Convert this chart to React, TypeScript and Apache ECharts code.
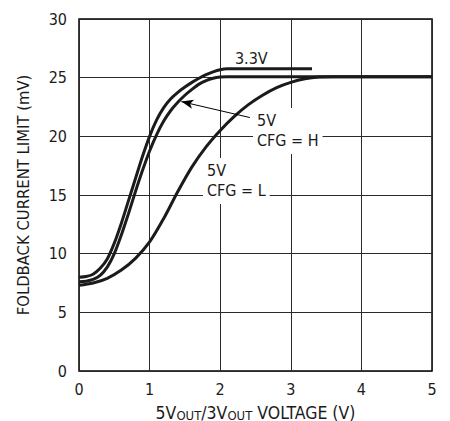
import React, { useEffect, useRef } from "react";
import * as echarts from "echarts";

// ---- data ----
const X_MIN = 0, X_MAX = 5, X_STEP = 1;
const Y_MIN = 0, Y_MAX = 30, Y_STEP = 5;

const v33X = [0, 0.1, 0.2, 0.3, 0.4, 0.5, 0.6, 0.7, 0.8, 0.9, 1.0, 1.1, 1.2, 1.3, 1.4, 1.5, 1.6, 1.7, 1.8, 1.9, 2.0, 2.1, 2.5, 3.3];
const v33Y = [8.0, 8.05, 8.25, 8.75, 9.55, 10.9, 12.6, 14.5, 16.4, 18.3, 20.0, 21.4, 22.45, 23.2, 23.75, 24.2, 24.6, 24.95, 25.25, 25.5, 25.68, 25.75, 25.75, 25.75];

const v5HX = [0, 0.1, 0.2, 0.3, 0.4, 0.5, 0.6, 0.7, 0.8, 0.9, 1.0, 1.1, 1.2, 1.3, 1.4, 1.5, 1.6, 1.7, 1.8, 1.9, 2.0, 2.1, 2.5, 5.0];
const v5HY = [7.6, 7.65, 7.8, 8.15, 8.85, 10.0, 11.6, 13.4, 15.3, 17.1, 18.75, 20.15, 21.3, 22.2, 22.9, 23.5, 24.0, 24.45, 24.75, 24.95, 25.05, 25.08, 25.08, 25.08];

const v5LX = [0, 0.2, 0.4, 0.6, 0.8, 1.0, 1.2, 1.4, 1.6, 1.8, 2.0, 2.2, 2.4, 2.6, 2.8, 3.0, 3.2, 3.4, 3.6, 4.0, 5.0];
const v5LY = [7.3, 7.5, 7.9, 8.6, 9.6, 11.0, 13.0, 15.3, 17.4, 19.1, 20.5, 21.7, 22.7, 23.5, 24.15, 24.6, 24.9, 25.05, 25.08, 25.08, 25.08];

// annotation anchors in data coordinates
const LABEL_33 = { text: "3.3V", at: [2.44, 26.6] };
const LABEL_5H = { text: "5V\nCFG = H", at: [2.465, 22.42] };
const LABEL_5L = { text: "5V\nCFG = L", at: [1.756, 18.16] };
const ARROW_FROM = [2.42, 21.6];
const ARROW_TO = [1.45, 22.96];

const Y_TITLE = "FOLDBACK CURRENT LIMIT (mV)";

const FONT = "'Liberation Sans Narrow', 'DejaVu Sans Condensed', 'Arial Narrow', sans-serif";
const INK = "#1b1b1b";

const pairs = (xs: number[], ys: number[]) => xs.map((x, i) => [x, ys[i]]);

export default function App() {
  const ref = useRef<HTMLDivElement>(null);
  useEffect(() => {
    if (!ref.current) return;
    const chart = echarts.init(ref.current, undefined, { renderer: "svg" });
    const lineStyle = { color: INK, width: 3 };
    const common = {
      type: "line" as const,
      showSymbol: false,
      symbol: "none",
      smooth: 0.3,
      lineStyle,
      itemStyle: { color: INK },
      z: 3,
    };
    chart.setOption({
      animation: false,
      backgroundColor: "#fff",
      grid: {
        left: 79,
        top: 19,
        width: 353,
        height: 352,
        show: true,
        borderColor: "#000",
        borderWidth: 1.5,
        backgroundColor: "transparent",
      },
      xAxis: {
        type: "value",
        min: X_MIN,
        max: X_MAX,
        interval: X_STEP,
        axisLine: { show: false },
        axisTick: { show: false },
        splitLine: { show: true, lineStyle: { color: "#2a2a2a", width: 1 } },
        axisLabel: { color: INK, fontSize: 16, fontFamily: FONT, margin: 10 },
      },
      yAxis: {
        type: "value",
        min: Y_MIN,
        max: Y_MAX,
        interval: Y_STEP,
        axisLine: { show: false },
        axisTick: { show: false },
        splitLine: { show: true, lineStyle: { color: "#2a2a2a", width: 1 } },
        axisLabel: { color: INK, fontSize: 16, fontFamily: FONT, margin: 12 },
      },
      series: [
        {
          ...common,
          name: "3.3V",
          data: pairs(v33X, v33Y),
          markLine: {
            silent: true,
            symbol: ["none", "arrow"],
            symbolSize: [7, 12],
            label: { show: false },
            lineStyle: { color: "#000", width: 1, type: "solid" },
            data: [[{ coord: ARROW_FROM }, { coord: ARROW_TO }]],
          },
        },
        { ...common, name: "5V CFG=H", data: pairs(v5HX, v5HY) },
        { ...common, name: "5V CFG=L", data: pairs(v5LX, v5LY) },
      ],
    });

    const px = (p: number[]) => chart.convertToPixel({ gridIndex: 0 }, p) as number[];
    const p33 = px(LABEL_33.at);
    const pH = px(LABEL_5H.at);
    const pL = px(LABEL_5L.at);
    const gLeft = px([X_MIN, Y_MIN]);
    const gRight = px([X_MAX, Y_MAX]);
    const cx = (gLeft[0] + gRight[0]) / 2;
    const cy = (gLeft[1] + gRight[1]) / 2;

    const boxText = (t: string, p: number[]) => ({
      type: "text",
      x: p[0],
      y: p[1],
      z: 10,
      style: {
        text: t,
        fill: INK,
        fontSize: 16,
        fontFamily: FONT,
        lineHeight: 20,
        align: "left",
        verticalAlign: "top",
        backgroundColor: "#fff",
        padding: [3, 4, 3, 4],
      },
    });

    chart.setOption({
      graphic: [
        {
          type: "text",
          x: p33[0],
          y: p33[1],
          z: 10,
          style: {
            text: LABEL_33.text,
            fill: INK,
            fontSize: 16,
            fontFamily: FONT,
            align: "center",
            verticalAlign: "middle",
          },
        },
        boxText(LABEL_5H.text, pH),
        boxText(LABEL_5L.text, pL),
        {
          type: "text",
          x: 23,
          y: cy,
          rotation: Math.PI / 2,
          style: {
            text: Y_TITLE,
            fill: INK,
            fontSize: 16.5,
            fontFamily: FONT,
            align: "center",
            verticalAlign: "middle",
          },
        },
        {
          type: "text",
          x: cx,
          y: 413,
          style: {
            text: "{a|5V}{s|OUT}{a|/3V}{s|OUT}{a| VOLTAGE (V)}",
            align: "center",
            verticalAlign: "middle",
            rich: {
              a: { fontSize: 17.5, fontFamily: FONT, fill: INK, color: INK, lineHeight: 18 },
              s: { fontSize: 13, fontFamily: FONT, fill: INK, color: INK, lineHeight: 18, padding: [4, 0, 0, 0] },
            },
          },
        },
      ],
    });

    return () => chart.dispose();
  }, []);

  return (
    <div
      ref={ref}
      style={{ position: "fixed", left: 0, top: 0, width: 450, height: 421, background: "#fff" }}
    />
  );
}
